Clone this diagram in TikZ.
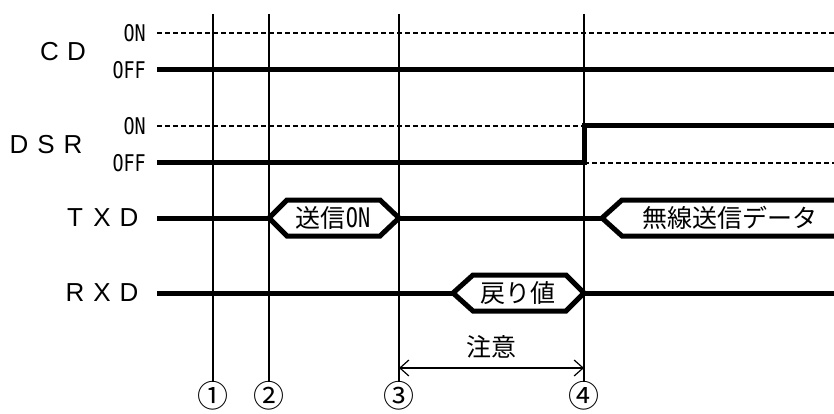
\documentclass[tikz,border=0pt]{standalone}
\usepackage{fontspec}
\usepackage{graphicx}
\usetikzlibrary{arrows.meta}
\newfontfamily\jpfont{Noto Sans CJK JP}
\newfontfamily\sigfont{Liberation Sans}
\newfontfamily\lvlfont{DejaVu Sans Mono}
% 信号名の文字を等間隔に並べる
\newcommand{\sigchar}[1]{\makebox[27pt]{#1}}
% 半角の細い英字
\newcommand{\narrow}[1]{\scalebox{0.8}[1]{#1}}
\newcommand{\halfon}{{\lvlfont\fontsize{27}{27}\selectfont\scalebox{0.75}[1]{ON}}}

\begin{document}
\begin{tikzpicture}[x=1pt, y=-1pt,
    sig/.style={line width=5pt},
    lvlref/.style={line width=1.6pt, dash pattern=on 5pt off 3pt},
    marker/.style={line width=1.6pt},
    dimline/.style={line width=1.2pt,
        {Straight Barb[length=9pt,width=16pt]}-{Straight Barb[length=9pt,width=16pt]}},
    signame/.style={font=\sigfont\fontsize{26}{26}\selectfont, inner sep=0pt},
    lvl/.style={font=\lvlfont\fontsize{23}{23}\selectfont, anchor=east, inner sep=0pt},
    txt/.style={font=\jpfont\fontsize{25}{25}\selectfont, inner sep=0pt},
    numtxt/.style={font=\jpfont\fontsize{31}{31}\selectfont, inner sep=0pt}]

    \useasboundingbox (0,0) rectangle (834,414);

    % 時刻の縦線と番号
    \foreach \x/\n [count=\i] in {213/①, 269/②, 399/③, 584/④} {
        \draw[marker] (\x,14) -- (\x,382);
        \node[numtxt] (num\i) at (\x,396) {\n};
    }

    % 信号名
    \node[signame] (cd)  at (63,52)   {\sigchar{C}\sigchar{D}};
    \node[signame] (dsr) at (46,145)  {\sigchar{D}\sigchar{S}\sigchar{R}};
    \node[signame] (txd) at (102,218) {\sigchar{T}\sigchar{X}\sigchar{D}};
    \node[signame] (rxd) at (102,293) {\sigchar{R}\sigchar{X}\sigchar{D}};

    % ON / OFF のレベル表示
    \foreach \y/\t [count=\i] in {33/ON, 70/OFF, 126/ON, 163/OFF} {
        \node[lvl] (lvl\i) at (146,\y) {\narrow{\t}};
    }

    % CD: 常に OFF
    \draw[lvlref] (157,33) -- (834,33);
    \draw[sig] (157,70) -- (834,70);

    % DSR: ④ で ON になる
    \draw[lvlref] (157,126) -- (584,126);
    \draw[lvlref] (584,163) -- (834,163);
    \draw[sig] (157,163) -- (584,163) -- (584,126) -- (834,126);

    % TXD
    \draw[sig] (157,218) -- (269,218);
    \draw[sig] (269,218) -- (287,200) -- (380,200) -- (399,218)
        -- (380,236) -- (287,236) -- cycle;
    \node[txt] (txon) at (333,218) {送信\halfon};
    \draw[sig] (399,218) -- (602,218);
    \draw[sig] (834,200) -- (622,200) -- (602,218) -- (622,236) -- (834,236);
    \node[txt] (txdata) at (730,218) {無線送信データ};

    % RXD
    \draw[sig] (157,293) -- (453,293);
    \draw[sig] (453,293) -- (473,275) -- (566,275) -- (584,293)
        -- (566,311) -- (473,311) -- cycle;
    \node[txt] (rxret) at (518,293) {戻り値};
    \draw[sig] (584,293) -- (834,293);

    % 注意の区間
    \coordinate (c3) at (399,368);
    \coordinate (c4) at (584,368);
    \draw[dimline] (c3) -- (c4);
    \node[txt] (note) at (491,347) {注意};

\end{tikzpicture}
\end{document}
